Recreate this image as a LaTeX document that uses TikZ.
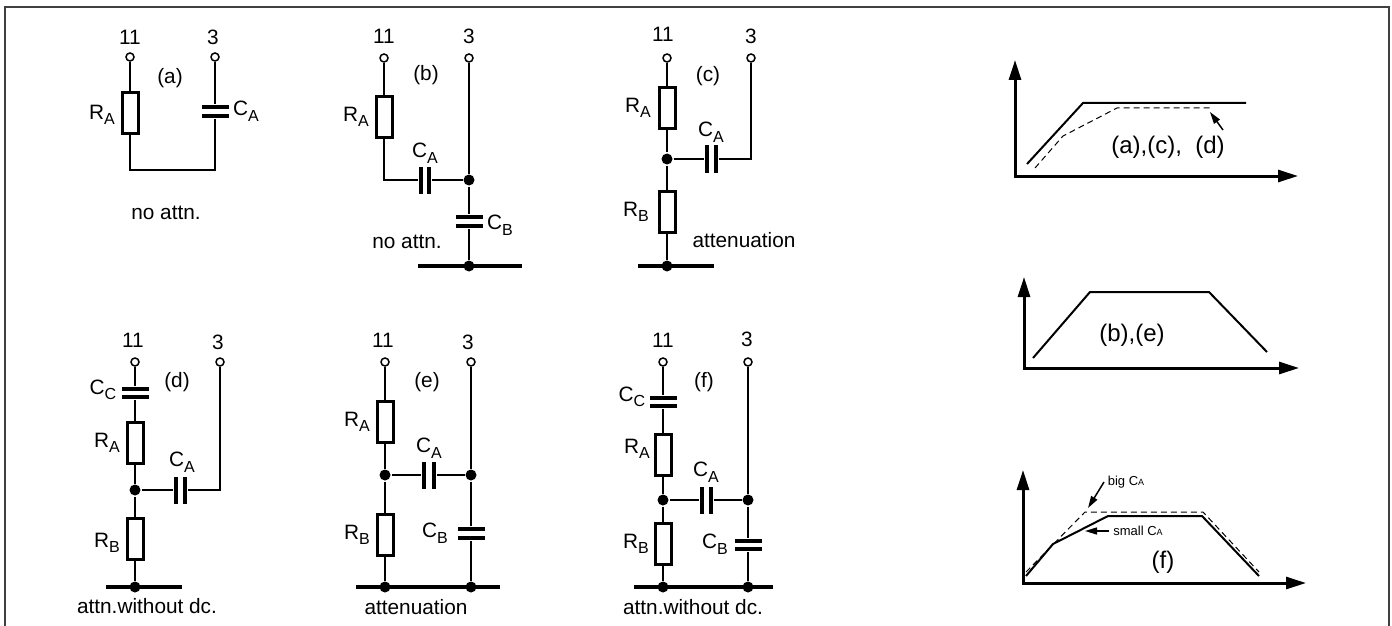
\documentclass[tikz,border=0pt]{standalone}
\usepackage{fontspec}
\setmainfont{Liberation Sans}
\usetikzlibrary{arrows.meta, shapes, positioning}
\newcommand{\lowsub}[1]{\raisebox{-.5ex}{\fontsize{8}{9}\selectfont #1}}
\newcommand{\tinysub}[1]{{\fontsize{4.5}{5}\selectfont #1}}

\begin{document}
\begin{tikzpicture}[x=.5pt, y=-.5pt, line width=1pt,
                    every node/.style={font=\fontsize{10.4}{12}\selectfont, inner sep=0pt},
                    term node/.style={circle, draw, fill=white, line width=.75pt, minimum size=4pt},
                    dot node/.style={circle, fill=black, minimum size=5.5pt},
                    res node/.style={rectangle, draw, line width=1.5pt, fill=white,
                      minimum width=8pt, minimum height=20.5pt},
                    hplate/.style={rectangle, fill=black, minimum width=13.5pt, minimum height=2pt},
                    vplate/.style={rectangle, fill=black, minimum width=2pt, minimum height=13.5pt},
                    ground/.style={line width=2pt},
                    axis/.style={line width=1.5pt, {Triangle[length=10pt,width=6pt]}-{Triangle[length=10pt,width=6pt]}},
                    curve/.style={line width=1pt},
                    dash curve/.style={line width=.5pt, dash pattern=on 3pt off 2pt},
                    pointer/.style={line width=.75pt, -{Triangle[length=6pt,width=3.5pt]}},
                    small label/.style={font=\fontsize{6.5}{8}\selectfont},
                    plot label/.style={font=\fontsize{12}{14}\selectfont},
                    frame/.style={line width=.75pt, black!75}]

  \useasboundingbox (0,0) rectangle (1392,626);
  \coordinate (fr1) at (5,626);
  \coordinate (fr2) at (5,7);
  \coordinate (fr3) at (1389,7);
  \coordinate (fr4) at (1389,626);
  \draw[frame] (fr1) -- (fr2) -- (fr3) -- (fr4);

  \node[term node] (a11) at (130,57) {};
  \node[term node, node distance=42.5pt, right of=a11] (a3) {};
  \node[node distance=10pt, above of=a11] (aL11) {11};
  \node[node distance=10pt, above of=a3, xshift=-1pt] (aL3) {3};
  \node[node distance=20pt, right of=a11, yshift=-10.5pt] (aname) {(a)};
  \node[res node, node distance=28pt, below of=a11] (aR) {};
  \node[node distance=14pt, left of=aR, yshift=-1pt] (aRA) {R\lowsub{A}};
  \node[hplate, node distance=25pt, below of=a3] (aC1) {};
  \node[hplate, node distance=4.5pt, below of=aC1] (aC2) {};
  \node[node distance=15.5pt, right of=aC1, yshift=-2pt] (aCA) {C\lowsub{A}};
  \coordinate[node distance=28.5pt, below of=aR] (aw1);
  \coordinate[node distance=56.5pt, below of=a3] (aw2);
  \node[node distance=18pt, right of=a11, yshift=-78pt] (ano) {no attn.};

  \path
    (a11) edge (aR)
    (a3) edge (aC1);
  \draw (aR) -- (aw1) -- (aw2) -- (aC2);

  \node[term node] (b11) at (384,58) {};
  \node[term node, node distance=42.5pt, right of=b11] (b3) {};
  \node[node distance=11pt, above of=b11] (bL11) {11};
  \node[node distance=11pt, above of=b3] (bL3) {3};
  \node[node distance=21pt, right of=b11, yshift=-8.5pt] (bname) {(b)};
  \node[res node, node distance=29.5pt, below of=b11] (bR) {};
  \node[node distance=14pt, left of=bR] (bRA) {R\lowsub{A}};
  \coordinate[node distance=31.5pt, below of=bR] (bw);
  \node[vplate, node distance=18.5pt, right of=bw] (bC1) {};
  \node[vplate, node distance=4pt, right of=bC1] (bC2) {};
  \node[node distance=13.5pt, above of=bC1, xshift=2pt] (bCA) {C\lowsub{A}};
  \node[dot node, node distance=61pt, below of=b3] (bd) {};
  \node[hplate, node distance=18.5pt, below of=bd] (bC3) {};
  \node[hplate, node distance=4.5pt, below of=bC3] (bC4) {};
  \node[node distance=15.5pt, right of=bC3, yshift=-4pt] (bCB) {C\lowsub{B}};
  \node[dot node, node distance=43pt, below of=bd] (bg) {};
  \coordinate[node distance=25.5pt, left of=bg] (bg1);
  \coordinate[node distance=26.5pt, right of=bg] (bg2);
  \node[node distance=31pt, left of=bg, yshift=12pt] (bno) {no attn.};

  \path
    (b11) edge (bR)
    (b3) edge (bd)
    (bC2) edge (bd)
    (bd) edge (bC3)
    (bC4) edge (bg);
  \draw (bR) -- (bw) -- (bC1);
  \draw[ground] (bg1) -- (bg2);

  \node[term node] (c11) at (667,58) {};
  \node[term node, node distance=42pt, right of=c11] (c3) {};
  \node[node distance=12pt, above of=c11, xshift=-2pt] (cL11) {11};
  \node[node distance=11pt, above of=c3] (cL3) {3};
  \node[node distance=20.5pt, right of=c11, yshift=-9pt] (cname) {(c)};
  \node[res node, node distance=25pt, below of=c11] (cR1) {};
  \node[node distance=14.5pt, left of=cR1] (cRA) {R\lowsub{A}};
  \node[dot node, node distance=50.5pt, below of=c11] (cd) {};
  \node[vplate, node distance=20pt, right of=cd] (cC1) {};
  \node[vplate, node distance=4.5pt, right of=cC1] (cC2) {};
  \node[node distance=13.5pt, above of=cC1, xshift=2pt] (cCA) {C\lowsub{A}};
  \coordinate[node distance=50.5pt, below of=c3] (cw);
  \node[res node, node distance=26.5pt, below of=cd] (cR2) {};
  \node[node distance=15.5pt, left of=cR2] (cRB) {R\lowsub{B}};
  \node[dot node, node distance=53.5pt, below of=cd] (cg) {};
  \coordinate[node distance=14.5pt, left of=cg] (cg1);
  \coordinate[node distance=23.5pt, right of=cg] (cg2);
  \node[node distance=38.5pt, right of=cg, yshift=13pt] (catt) {attenuation};

  \path
    (c11) edge (cR1)
    (cR1) edge (cd)
    (cd) edge (cC1)
    (cd) edge (cR2)
    (cR2) edge (cg);
  \draw (cC2) -- (cw) -- (c3);
  \draw[ground] (cg1) -- (cg2);

  \node[term node] (d11) at (135,362) {};
  \node[term node, node distance=42.5pt, right of=d11] (d3) {};
  \node[node distance=11pt, above of=d11, xshift=-1pt] (dL11) {11};
  \node[node distance=10pt, above of=d3, xshift=-1pt] (dL3) {3};
  \node[node distance=21pt, right of=d11, yshift=-10pt] (dname) {(d)};
  \node[hplate, node distance=13.5pt, below of=d11] (dC1) {};
  \node[hplate, node distance=4pt, below of=dC1] (dC2) {};
  \node[node distance=16pt, left of=dC1, yshift=-.5pt] (dCC) {C\lowsub{C}};
  \node[res node, node distance=40.5pt, below of=d11] (dR1) {};
  \node[node distance=14pt, left of=dR1] (dRA) {R\lowsub{A}};
  \node[dot node, node distance=64pt, below of=d11] (dd) {};
  \node[vplate, node distance=20.5pt, right of=dd] (dC3) {};
  \node[vplate, node distance=4.5pt, right of=dC3] (dC4) {};
  \node[node distance=14pt, above of=dC3, xshift=3pt] (dCA) {C\lowsub{A}};
  \coordinate[node distance=64pt, below of=d3] (dw);
  \node[res node, node distance=24.5pt, below of=dd] (dR2) {};
  \node[node distance=14pt, left of=dR2, yshift=-2pt] (dRB) {R\lowsub{B}};
  \node[dot node, node distance=48.5pt, below of=dd] (dg) {};
  \coordinate[node distance=14.5pt, left of=dg] (dg1);
  \coordinate[node distance=23.5pt, right of=dg] (dg2);
  \node[node distance=9.5pt, below of=dg, xshift=6pt] (datt) {attn.without dc.};

  \path
    (d11) edge (dC1)
    (dC2) edge (dR1)
    (dR1) edge (dd)
    (dd) edge (dC3)
    (dd) edge (dR2)
    (dR2) edge (dg);
  \draw (dC4) -- (dw) -- (d3);
  \draw[ground] (dg1) -- (dg2);

  \node[term node] (e11) at (385,362) {};
  \node[term node, node distance=43pt, right of=e11] (e3) {};
  \node[node distance=11pt, above of=e11, xshift=-1pt] (eL11) {11};
  \node[node distance=10pt, above of=e3, xshift=-1.5pt] (eL3) {3};
  \node[node distance=21pt, right of=e11, yshift=-10pt] (ename) {(e)};
  \node[res node, node distance=30pt, below of=e11] (eR1) {};
  \node[node distance=14pt, left of=eR1] (eRA) {R\lowsub{A}};
  \node[dot node, node distance=56.5pt, below of=e11] (ed) {};
  \node[vplate, node distance=19.5pt, right of=ed] (eC1) {};
  \node[vplate, node distance=5pt, right of=eC1] (eC2) {};
  \node[node distance=13.5pt, above of=eC1, xshift=2.5pt] (eCA) {C\lowsub{A}};
  \node[dot node, node distance=56.5pt, below of=e3] (ed2) {};
  \node[res node, node distance=30pt, below of=ed] (eR2) {};
  \node[node distance=14pt, left of=eR2] (eRB) {R\lowsub{B}};
  \node[hplate, node distance=27pt, below of=ed2] (eC3) {};
  \node[hplate, node distance=4.5pt, below of=eC3] (eC4) {};
  \node[node distance=18pt, left of=eC3, yshift=-2pt] (eCB) {C\lowsub{B}};
  \node[dot node, node distance=56pt, below of=ed] (eg) {};
  \node[dot node, node distance=56pt, below of=ed2] (eg2) {};
  \coordinate[node distance=14.5pt, left of=eg] (eg1);
  \coordinate[node distance=14.5pt, right of=eg2] (eg3);
  \node[node distance=10pt, below of=eg, xshift=15.5pt] (eatt) {attenuation};

  \path
    (e11) edge (eR1)
    (eR1) edge (ed)
    (ed) edge (eC1)
    (eC2) edge (ed2)
    (e3) edge (ed2)
    (ed) edge (eR2)
    (eR2) edge (eg)
    (ed2) edge (eC3)
    (eC4) edge (eg2);
  \draw[ground] (eg1) -- (eg3);

  \node[term node] (f11) at (663,362) {};
  \node[term node, node distance=42.5pt, right of=f11] (f3) {};
  \node[node distance=11pt, above of=f11] (fL11) {11};
  \node[node distance=11.5pt, above of=f3, xshift=-.5pt] (fL3) {3};
  \node[node distance=20.5pt, right of=f11, yshift=-10pt] (fname) {(f)};
  \node[hplate, node distance=18pt, below of=f11] (fC1) {};
  \node[hplate, node distance=4pt, below of=fC1] (fC2) {};
  \node[node distance=15.5pt, left of=fC1, yshift=.5pt] (fCC) {C\lowsub{C}};
  \node[res node, node distance=46.5pt, below of=f11] (fR1) {};
  \node[node distance=13pt, left of=fR1, yshift=3pt] (fRA) {R\lowsub{A}};
  \node[dot node, node distance=69pt, below of=f11] (fd) {};
  \node[vplate, node distance=19.5pt, right of=fd] (fC3) {};
  \node[vplate, node distance=4.5pt, right of=fC3] (fC4) {};
  \node[node distance=14pt, above of=fC3, xshift=2pt] (fCA) {C\lowsub{A}};
  \node[dot node, node distance=69pt, below of=f3] (fd2) {};
  \node[res node, node distance=22pt, below of=fd] (fR2) {};
  \node[node distance=13.5pt, left of=fR2] (fRB) {R\lowsub{B}};
  \node[hplate, node distance=20.5pt, below of=fd2] (fC5) {};
  \node[hplate, node distance=4pt, below of=fC5] (fC6) {};
  \node[node distance=16.5pt, left of=fC5, yshift=-1.5pt] (fCB) {C\lowsub{B}};
  \node[dot node, node distance=43.5pt, below of=fd] (fg) {};
  \node[dot node, node distance=43.5pt, below of=fd2] (fg2) {};
  \coordinate[node distance=14.5pt, left of=fg] (fg1);
  \coordinate[node distance=12.5pt, right of=fg2] (fg3);
  \node[node distance=10pt, below of=fg, xshift=15pt] (fatt) {attn.without dc.};

  \path
    (f11) edge (fC1)
    (fC2) edge (fR1)
    (fR1) edge (fd)
    (fd) edge (fC3)
    (fC4) edge (fd2)
    (f3) edge (fd2)
    (fd) edge (fR2)
    (fR2) edge (fg)
    (fd2) edge (fC5)
    (fC6) edge (fg2);
  \draw[ground] (fg1) -- (fg3);

  \coordinate (p1o) at (1015,176);
  \coordinate (p1x) at (1298,176);
  \coordinate (p1y) at (1015,60);
  \coordinate (p1a) at (1027,164);
  \coordinate (p1b) at (1083,103);
  \coordinate (p1c) at (1246,103);
  \coordinate (p1d) at (1035,168);
  \coordinate (p1e) at (1063,136);
  \coordinate (p1f) at (1117,108);
  \coordinate (p1g) at (1210,108);
  \coordinate (p1h) at (1223,130);
  \coordinate (p1i) at (1210,112);
  \node[plot label] (p1t) at (1168,147) {(a),(c),\ \ (d)};
  \draw[axis] (p1y) -- (p1o) -- (p1x);
  \draw[curve] (p1a) -- (p1b) -- (p1c);
  \draw[dash curve] (p1d) -- (p1e) -- (p1f) -- (p1g);
  \draw[pointer] (p1h) -- (p1i);

  \coordinate (p2o) at (1024,368);
  \coordinate (p2x) at (1299,368);
  \coordinate (p2y) at (1024,277);
  \coordinate (p2a) at (1033,358);
  \coordinate (p2b) at (1090,292);
  \coordinate (p2c) at (1209,292);
  \coordinate (p2d) at (1267,352);
  \node[plot label] (p2t) at (1132,335) {(b),(e)};
  \draw[axis] (p2y) -- (p2o) -- (p2x);
  \draw[curve] (p2a) -- (p2b) -- (p2c) -- (p2d);

  \coordinate (p3o) at (1023,583);
  \coordinate (p3x) at (1306,583);
  \coordinate (p3y) at (1023,470);
  \coordinate (p3a) at (1026,576);
  \coordinate (p3b) at (1053,544);
  \coordinate (p3c) at (1108,516);
  \coordinate (p3d) at (1202,516);
  \coordinate (p3e) at (1259,576);
  \coordinate (p3f) at (1026,572);
  \coordinate (p3g) at (1085,512);
  \coordinate (p3h) at (1203,512);
  \coordinate (p3i) at (1259,572);
  \node[small label] (p3big) at (1126,482) {big C\tinysub{A}};
  \node[small label] (p3small) at (1138,531) {small C\tinysub{A}};
  \node[plot label] (p3t) at (1163,562) {(f)};
  \draw[axis] (p3y) -- (p3o) -- (p3x);
  \draw[curve] (p3a) -- (p3b) -- (p3c) -- (p3d) -- (p3e);
  \draw[dash curve] (p3f) -- (p3g) -- (p3h) -- (p3i);
  \draw[pointer] (p3big) ++(-22,0) coordinate (p3j) (p3j) -- ++(-16,26);
  \draw[pointer] (p3small) ++(-29,0) coordinate (p3k) (p3k) -- ++(-24,0);
\end{tikzpicture}
\end{document}
